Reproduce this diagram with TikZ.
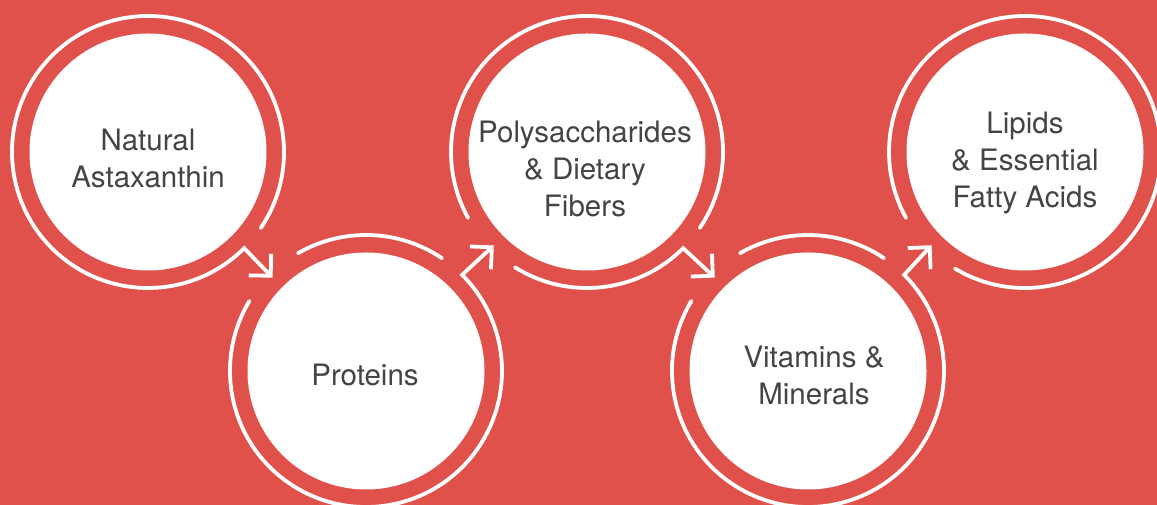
\documentclass[tikz,border=0pt]{standalone}
\usepackage{fontspec}
\setmainfont{TeX Gyre Heros}
\usetikzlibrary{arrows.meta}
\definecolor{bgred}{HTML}{E0514B}
\definecolor{txtgray}{HTML}{444444}
\tikzset{
  ring/.style={circle,minimum size=272pt,inner sep=0pt,outer sep=0pt},
  disc/.style={circle,fill=white,minimum size=237pt,inner sep=0pt,outer sep=0pt},
  lbl/.style={align=center,text=txtgray,font=\fontsize{29.5}{37}\selectfont},
  band/.style={draw=white,line width=3.8pt,line cap=round,line join=miter},
  flow/.style={band,shorten >=-4pt,-{Straight Barb[angle=90:22pt]}},
}
\begin{document}
\begin{tikzpicture}[x=1pt,y=1pt]
	\fill[bgred] (0,0) rectangle (1157,505);
	\useasboundingbox (0,0) rectangle (1157,505);
	%discs
	\node[disc] (d1) at (148,353) {};
	\node[disc] (d2) at (366,134) {};
	\node[disc] (d3) at (587,353) {};
	\node[disc] (d4) at (808,134) {};
	\node[disc] (d5) at (1025,353) {};
	\node[ring] (r1) at (d1) {};
	\node[ring] (r2) at (d2) {};
	\node[ring] (r3) at (d3) {};
	\node[ring] (r4) at (d4) {};
	\node[ring] (r5) at (d5) {};
	%labels
	\node[lbl] (t1) at (148,346.5) {Natural\\Astaxanthin};
	\node[lbl] (t2) at (365,130) {Proteins};
	\node[lbl] (t3) at (585,336.5) {Polysaccharides\\\& Dietary\\Fibers};
	\node[lbl] (t4) at (814,130) {Vitamins \&\\Minerals};
	\node[lbl] (t5) at (1025,342.5) {Lipids\\\& Essential\\Fatty Acids};
	%rings and arrows
	\draw[flow] (r1.-34) arc[start angle=-34,end angle=315,radius=136pt] -- (r2.135);
	\draw[band] (r2.56) arc[start angle=56,end angle=120,radius=136pt];
	\draw[flow] (r2.149) arc[start angle=149,end angle=405,radius=136pt] -- (r3.225);
	\draw[band] (r3.-34) arc[start angle=-34,end angle=209,radius=136pt];
	\draw[flow] (r3.238) arc[start angle=238,end angle=315,radius=136pt] -- (r4.135);
	\draw[band] (r4.56) arc[start angle=56,end angle=120,radius=136pt];
	\draw[flow] (r4.149) arc[start angle=149,end angle=405,radius=136pt] -- (r5.225);
	\draw[band] (r5.239) arc[start angle=239,end angle=569,radius=136pt];
\end{tikzpicture}
\end{document}
